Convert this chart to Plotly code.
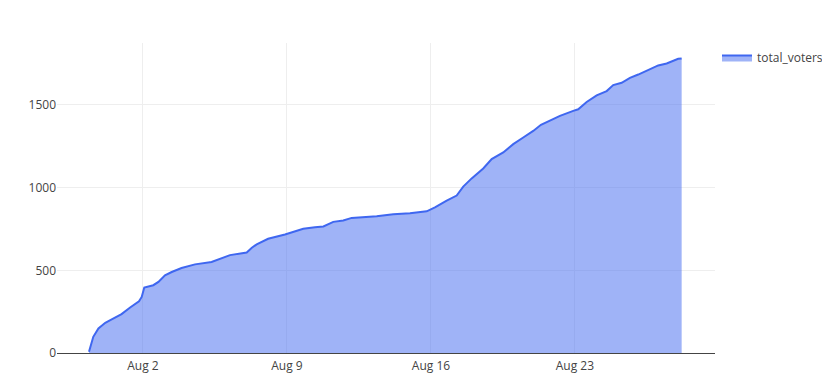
import plotly.graph_objects as go

timestamps = [
    "2020-07-30 09:00", "2020-07-30 14:00", "2020-07-30 20:00", "2020-07-31 04:00",
    "2020-07-31 11:30", "2020-07-31 23:00", "2020-08-01 09:00", "2020-08-01 19:20",
    "2020-08-01 22:30", "2020-08-02 01:30", "2020-08-02 12:00", "2020-08-02 18:00",
    "2020-08-03 01:40", "2020-08-03 09:30", "2020-08-03 21:00", "2020-08-04 12:40",
    "2020-08-05 08:00", "2020-08-05 20:00", "2020-08-06 05:30", "2020-08-07 01:00",
    "2020-08-07 07:00", "2020-08-07 12:40", "2020-08-08 02:00", "2020-08-08 21:40",
    "2020-08-09 19:00", "2020-08-10 08:40", "2020-08-10 18:30", "2020-08-11 06:00",
    "2020-08-11 17:40", "2020-08-12 03:30", "2020-08-13 08:40", "2020-08-14 04:00",
    "2020-08-14 23:30", "2020-08-15 19:00", "2020-08-16 04:40", "2020-08-16 18:20",
    "2020-08-17 06:00", "2020-08-17 13:40", "2020-08-17 23:30", "2020-08-18 13:00",
    "2020-08-18 22:50", "2020-08-19 12:20", "2020-08-20 00:00", "2020-08-20 11:40",
    "2020-08-20 23:20", "2020-08-21 08:20", "2020-08-21 18:50", "2020-08-22 06:30",
    "2020-08-22 22:00", "2020-08-23 03:50", "2020-08-23 13:40", "2020-08-24 01:20",
    "2020-08-24 13:00", "2020-08-24 20:40", "2020-08-25 06:30", "2020-08-25 16:10",
    "2020-08-26 01:50", "2020-08-26 11:40", "2020-08-27 01:10", "2020-08-27 11:00",
    "2020-08-28 00:30", "2020-08-28 04:30",
]

total_voters = [
    8, 98, 149, 183,
    203, 235, 275, 313,
    339, 396, 410, 430,
    470, 490, 514, 536,
    550, 574, 592, 608,
    637, 657, 691, 717,
    751, 761, 765, 793,
    801, 817, 827, 839,
    845, 857, 881, 922,
    952, 1006, 1056, 1116,
    1173, 1213, 1263, 1303,
    1343, 1380, 1404, 1434,
    1464, 1474, 1518, 1558,
    1584, 1620, 1634, 1664,
    1684, 1709, 1739, 1751,
    1779, 1781,
]

x_range = ["2020-07-28 19:40", "2020-08-29 19:25"]

fig = go.Figure()
fig.add_trace(go.Scatter(
    x=timestamps,
    y=total_voters,
    name="total_voters",
    mode="lines",
    fill="tozeroy",
    line=dict(color="#3F67F0", width=2),
    showlegend=True,
))

fig.update_layout(
    template="none",
    width=830,
    height=384,
    margin=dict(l=49, r=123, t=35, b=39, autoexpand=False),
    font=dict(family='"Open Sans", verdana, arial, sans-serif', size=12, color="#444"),
    plot_bgcolor="white",
    paper_bgcolor="white",
    legend=dict(x=1.003, xanchor="left", y=1, yanchor="top"),
    xaxis=dict(range=x_range, showgrid=True, gridcolor="#eee", zeroline=False,
               tickformat="%b %-d", dtick=7 * 24 * 3600 * 1000, tick0="2020-08-02",
               ticklabelstandoff=4),
    yaxis=dict(showgrid=True, gridcolor="#eee", zeroline=True, zerolinecolor="#444",
               zerolinewidth=1, rangemode="tozero"),
)

fig.write_html("out.html")
